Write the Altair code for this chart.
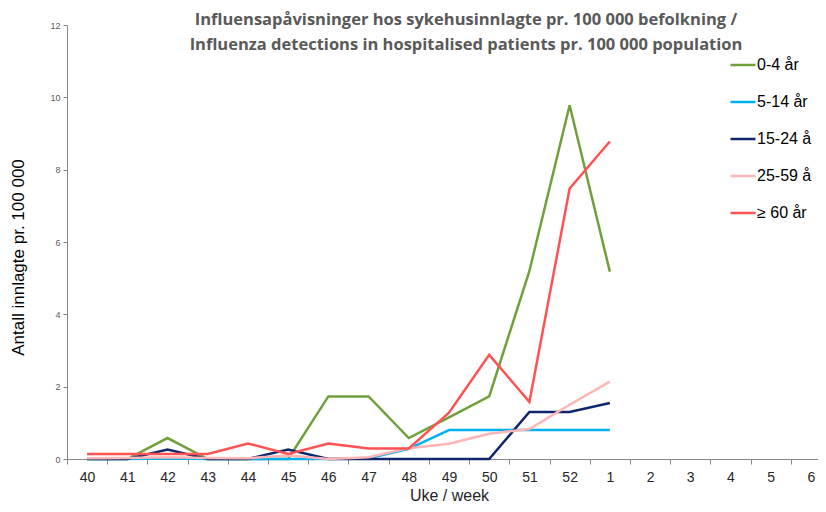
import altair as alt
import pandas as pd

weeks = ["40", "41", "42", "43", "44", "45", "46", "47", "48", "49", "50", "51", "52",
         "1", "2", "3", "4", "5", "6"]
data_weeks = ["40", "41", "42", "43", "44", "45", "46", "47", "48", "49", "50", "51", "52", "1"]

series_names = ["0-4 år", "5-14 år", "15-24 å", "25-59 å", "≥ 60 år"]
series_colors = ["#70a03c", "#00b0f0", "#10266a", "#ffb5b5", "#ff5253"]

age_0_4 = [0, 0, 0.58, 0, 0, 0, 1.73, 1.73, 0.58, 1.15, 1.73, 5.2, 9.78, 5.18]
age_5_14 = [0, 0, 0.02, 0, 0, 0, 0, 0.02, 0.28, 0.8, 0.8, 0.8, 0.8, 0.8]
age_15_24 = [0, 0, 0.26, 0, 0, 0.26, 0, 0, 0, 0, 0, 1.3, 1.3, 1.55]
age_25_59 = [0.02, 0.03, 0.05, 0.03, 0.02, 0.1, 0, 0.05, 0.3, 0.42, 0.7, 0.83, 1.5, 2.14]
age_60 = [0.14, 0.14, 0.14, 0.14, 0.43, 0.14, 0.43, 0.29, 0.29, 1.28, 2.88, 1.58, 7.48, 8.78]

all_series = [age_0_4, age_5_14, age_15_24, age_25_59, age_60]

rows = []
for s_idx, (name, vals) in enumerate(zip(series_names, all_series)):
    for i, (w, v) in enumerate(zip(data_weeks, vals)):
        rows.append({"week": w, "value": v, "series": name, "idx": i, "sidx": s_idx})
df = pd.DataFrame(rows)

chart = alt.Chart(df).mark_line(strokeWidth=2.5, strokeJoin="miter").encode(
    x=alt.X("week:N", bandPosition=0.5,
            scale=alt.Scale(type="band", domain=weeks, paddingInner=0, paddingOuter=0),
            axis=alt.Axis(title="Uke / week", labelAngle=0, tickBand="extent",
                          labelFontSize=14, labelFont="Liberation Sans", labelColor="#262626",
                          labelPadding=6, tickSize=5, tickColor="#868686",
                          domainColor="#868686", titleFontSize=16, titleFont="Liberation Sans",
                          titleFontWeight="normal", titleColor="#262626",
                          titleY=36, titleBaseline="middle")),
    y=alt.Y("value:Q", scale=alt.Scale(domain=[0, 12]),
            axis=alt.Axis(values=[0, 2, 4, 6, 8, 10, 12], grid=False, format="d",
                          labelFontSize=9, labelFont="Liberation Sans", labelColor="#595959",
                          tickSize=4, tickColor="#868686", domainColor="#868686", labelPadding=3,
                          title="Antall innlagte pr. 100 000", titleFontSize=17,
                          titleFont="Liberation Sans", titleFontWeight="normal",
                          titleColor="#000000", titleX=-49, titleY=232, titleAngle=270,
                          titleAlign="center", titleBaseline="middle")),
    color=alt.Color("series:N", sort=series_names,
                    scale=alt.Scale(domain=series_names, range=series_colors),
                    legend=alt.Legend(title=None, orient="none", legendX=662, legendY=26,
                                      symbolType="stroke", symbolSize=625, symbolStrokeWidth=2.5,
                                      labelFontSize=16, labelFont="Liberation Sans",
                                      labelColor="#000000", rowPadding=15, labelOffset=0)),
    order=alt.Order("idx:Q"),
).properties(
    width=764,
    height=434,
    title=alt.TitleParams(
        ["Influensapåvisninger hos sykehusinnlagte pr. 100 000 befolkning /",
         "Influenza detections in hospitalised patients pr. 100 000 population"],
        font="Open Sans", fontSize=16.5, fontWeight="bold", color="#595959",
        anchor="middle", dx=17, dy=36, lineHeight=25),
    autosize=alt.AutoSizeParams(type="none"),
    padding={"left": 59, "top": 17, "right": -13, "bottom": 45},
).configure_view(stroke=None)

chart.save("out.html", embed_options={"renderer": "svg", "actions": False})
